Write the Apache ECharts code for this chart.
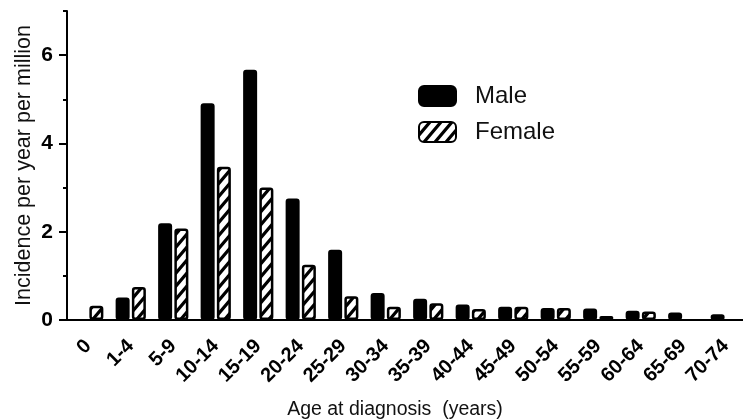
<!DOCTYPE html>
<html>
<head>
<meta charset="utf-8">
<script src="https://cdn.jsdelivr.net/npm/echarts@6/dist/echarts.min.js"></script>
<style>
  html, body { margin: 0; padding: 0; background: #fff; }
  #chart { width: 743px; height: 420px; }
</style>
</head>
<body>
<div id="chart"></div>
<script>
const ageGroups = ['0', '1-4', '5-9', '10-14', '15-19', '20-24', '25-29', '30-34',
  '35-39', '40-44', '45-49', '50-54', '55-59', '60-64', '65-69', '70-74'];
// null = no bar drawn in the figure
const maleValues = [null, 0.51, 2.19, 4.91, 5.67, 2.75, 1.59, 0.61, 0.48, 0.35, 0.30, 0.27, 0.26, 0.21, 0.17, 0.13];
const femaleValues = [0.32, 0.75, 2.07, 3.47, 3.00, 1.25, 0.54, 0.30, 0.38, 0.25, 0.30, 0.27, 0.09, 0.19, null, null];
const majorTicks = [0, 2, 4, 6];
const minorTicks = [1, 3, 5, 7];

const font = 'Liberation Sans, Arial, sans-serif';

// hatched fill for the female bars
function makeHatch() {
  const w = 11, h = 13;
  const c = document.createElement('canvas');
  c.width = w;
  c.height = h;
  const ctx = c.getContext('2d');
  ctx.fillStyle = '#fff';
  ctx.fillRect(0, 0, w, h);
  ctx.strokeStyle = '#000';
  ctx.lineWidth = 3.2;
  ctx.beginPath();
  ctx.moveTo(-w, 2 * h); ctx.lineTo(2 * w, -h);
  ctx.moveTo(-2 * w, 2 * h); ctx.lineTo(w, -h);
  ctx.moveTo(0, 2 * h); ctx.lineTo(3 * w, -h);
  ctx.stroke();
  return c;
}

const chart = echarts.init(document.getElementById('chart'));
const option = {
  animation: false,
  textStyle: { fontFamily: font, color: '#000' },
  grid: { left: 67, top: 11, bottom: 100, width: 680, containLabel: false, outerBoundsMode: 'none' },
  legend: {
    orient: 'vertical',
    left: 413,
    top: 79,
    itemWidth: 37,
    itemHeight: 20,
    itemGap: 12,
    icon: 'roundRect',
    textStyle: { fontSize: 24, color: '#111', fontFamily: font, padding: [0, 0, 0, 14] },
    data: ['Male', 'Female']
  },
  xAxis: {
    type: 'category',
    data: ageGroups,
    name: 'Age at diagnosis  (years)',
    nameLocation: 'middle',
    nameGap: 80,
    nameMoveOverlap: false,
    nameTextStyle: { fontSize: 19.5, color: '#111', padding: [0, 24, 0, 0] },
    axisLine: { lineStyle: { color: '#000', width: 2 } },
    axisTick: { alignWithLabel: true, length: 7, lineStyle: { color: '#000', width: 2 } },
    axisLabel: { rotate: 45, margin: 23, fontSize: 20, fontWeight: 'bold', color: '#000', interval: 0 }
  },
  yAxis: [{
    type: 'value',
    min: 0,
    max: 7,
    interval: 1,
    name: 'Incidence per year per million',
    nameLocation: 'middle',
    nameRotate: 90,
    nameGap: 32,
    nameMoveOverlap: false,
    nameTextStyle: { fontSize: 21.5, color: '#111' },
    splitLine: { show: false },
    axisLine: { show: true, lineStyle: { color: '#000', width: 2 } },
    axisTick: { show: true, length: 8, customValues: majorTicks, lineStyle: { color: '#000', width: 2 } },
    axisLabel: { customValues: majorTicks, margin: 14, fontSize: 21, fontWeight: 'bold', color: '#000' }
  }, {
    type: 'value',
    position: 'left',
    min: 0,
    max: 7,
    interval: 1,
    splitLine: { show: false },
    axisLine: { show: false },
    axisTick: { show: true, length: 4, customValues: minorTicks, lineStyle: { color: '#000', width: 2 } },
    axisLabel: { show: false }
  }],
  series: [{
    name: 'Male',
    type: 'bar',
    data: maleValues,
    barWidth: 14,
    barGap: '16%',
    itemStyle: { color: '#000', borderColor: '#000', borderWidth: 2, borderRadius: 2 }
  }, {
    name: 'Female',
    type: 'bar',
    data: femaleValues,
    barWidth: 14,
    itemStyle: {
      color: { image: makeHatch(), repeat: 'repeat' },
      borderColor: '#000',
      borderWidth: 2.5,
      borderRadius: 2
    }
  }]
};
chart.setOption(option);
</script>
</body>
</html>
